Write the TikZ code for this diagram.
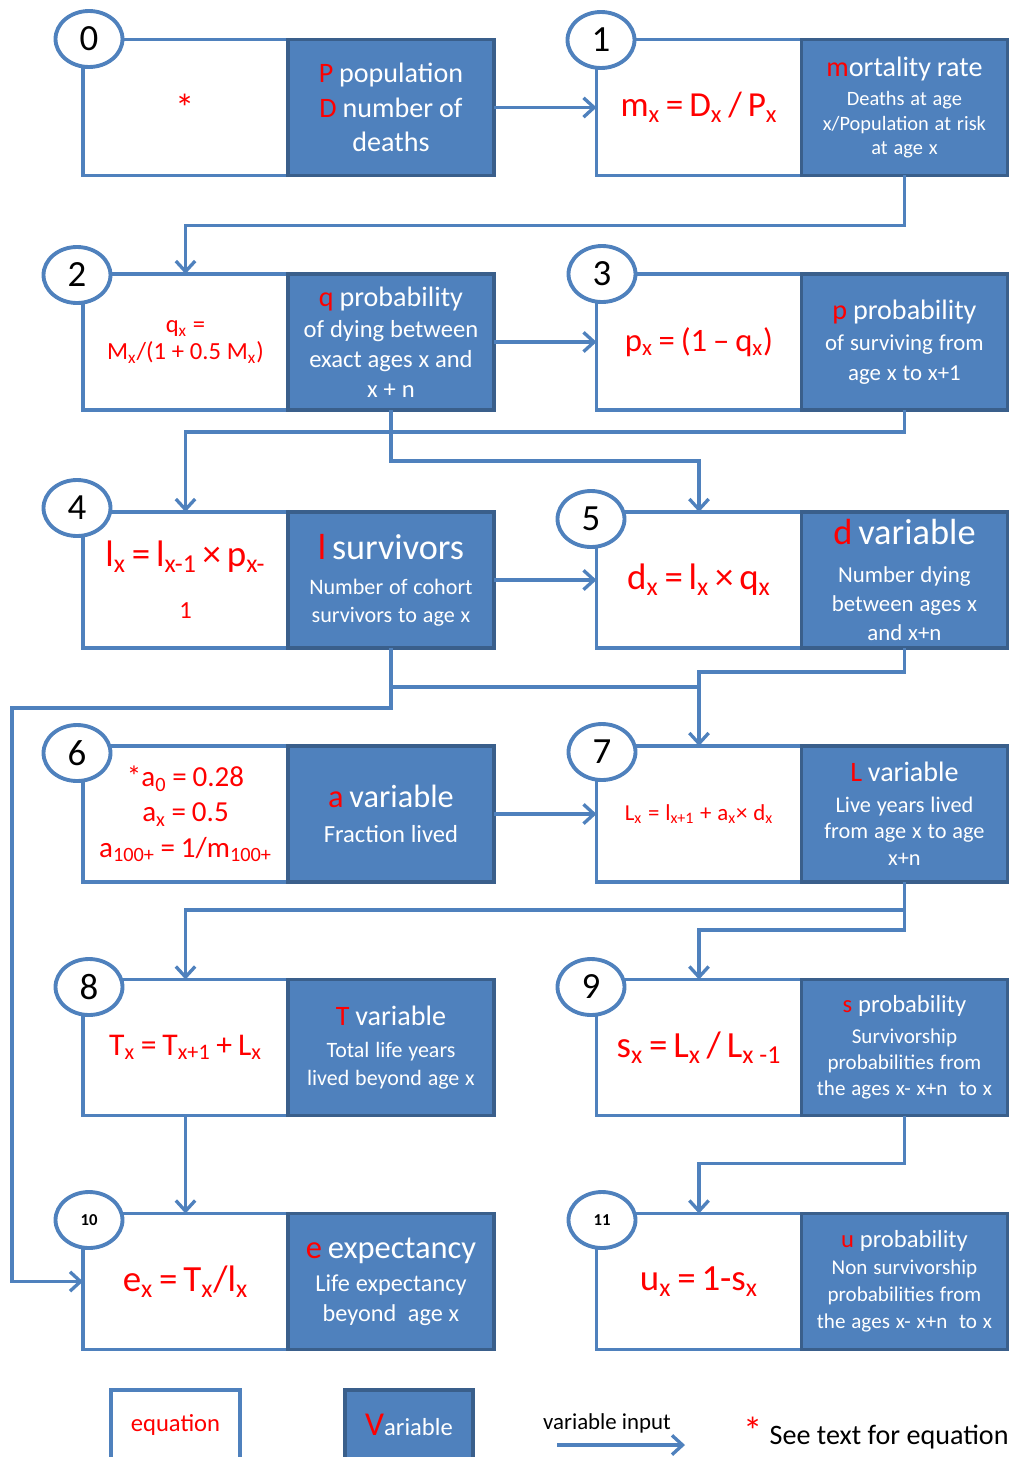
\documentclass[tikz,border=0pt]{standalone}
\usepackage{fontspec}
\setmainfont{Carlito}
\usetikzlibrary{positioning,arrows.meta,shapes.geometric}
\definecolor{varfill}{HTML}{4F81BD}
\definecolor{varedge}{HTML}{3A5F8B}
\definecolor{eqedge}{HTML}{4F81BD}
\newcommand{\redt}[1]{\textcolor{red}{#1}}
\newcommand{\fsz}[2]{\fontsize{#1}{#2}\selectfont}
\newcommand{\sbx}[1]{\textsubscript{#1}}

\begin{document}
\begin{tikzpicture}[
    x=0.02cm, y=-0.02cm,
    eqbox/.style={draw=eqedge, fill=white, line width=2pt, minimum width=4.1cm, minimum height=2.72cm,
        text width=3.9cm, align=center, inner sep=0pt, outer sep=0pt, text=red},
    varbox/.style={draw=varedge, fill=varfill, line width=1.8pt, minimum width=4.12cm, minimum height=2.72cm,
        text width=3.95cm, align=center, inner sep=0pt, outer sep=0pt, text=white},
    tag/.style={ellipse, draw=eqedge, fill=white, line width=2.2pt, minimum width=1.34cm,
        minimum height=1.12cm, inner sep=0pt, font=\fsz{21}{24}},
    smalltag/.style={tag, font=\bfseries\fsz{9.5}{11}},
    flow/.style={draw=eqedge, line width=1.9pt, -{Straight Barb[length=6pt,width=11pt]}},
    link/.style={draw=eqedge, line width=1.9pt}
]
\useasboundingbox (0,0) rectangle (1017,1457);
\clip (0,0) rectangle (1017,1457);

% row 0 / 1
\node[eqbox] (e0) at (185.5,107.5) {\fsz{22}{24}*\par};
\node[varbox, right=0pt of e0] (v0) {\fsz{16}{19.8}\redt{P} population\\\redt{D} number of\\deaths\par};
\node[eqbox] (e1) at (699,107.5) {\fsz{20}{24}m\sbx{x} = D\sbx{x} / P\sbx{x}\par};
\node[varbox, right=0pt of e1] (v1) {{\fsz{16}{19}\redt{m}ortality rate\par}\vspace{3pt}
    \fsz{11.6}{13.9}Deaths at age\\x/Population at risk\\at age x\par};

% row 2 / 3
\node[eqbox] (e2) at (185.5,342) {\fsz{14}{15.3}q\sbx{x} =\\M\sbx{x}/(1 + 0.5 M\sbx{x})\par};
\node[varbox, right=0pt of e2] (v2) {{\fsz{16}{19}\redt{q} probability\par}\vspace{1pt}
    \fsz{14}{17}of dying between\\exact ages x and\\x + n\par};
\node[eqbox] (e3) at (699,342) {\fsz{18.6}{22}p\sbx{x} = (1 – q\sbx{x})\par};
\node[varbox, right=0pt of e3] (v3) {{\fsz{16}{19}\redt{p} probability\par}\vspace{1pt}
    \fsz{13}{17}of surviving from\\age x to x+1\par};

% row 4 / 5
\node[eqbox] (e4) at (185.5,580) {\fsz{21}{29.5}l\sbx{x} = l\sbx{x-1} × p\sbx{x-}\\{\fsz{14}{17}1}\par};
\node[varbox, right=0pt of e4] (v4) {{\fsz{20.6}{23}\redt{l} survivors\par}\vspace{4pt}
    \fsz{12.6}{15.9}Number of cohort\\survivors to age x\par};
\node[eqbox] (e5) at (699,580) {\fsz{21}{25}d\sbx{x} = l\sbx{x} × q\sbx{x}\par};
\node[varbox, right=0pt of e5] (v5) {{\fsz{20.7}{23}\redt{d} variable\par}\vspace{5pt}
    \fsz{13}{16.4}Number dying\\between ages x\\and x+n\par};

% row 6 / 7
\node[eqbox] (e6) at (185.5,814) {\fsz{16.5}{20}*a\sbx{0} = 0.28\\a\sbx{x} = 0.5\\a\sbx{100+} = 1/m\sbx{100+}\par};
\node[varbox, right=0pt of e6] (v6) {{\fsz{18.4}{21}\redt{a} variable\par}\vspace{3pt}
    \fsz{14}{17}Fraction lived\par};
\node[eqbox] (e7) at (699,814) {\fsz{13}{16}L\sbx{x} = l\sbx{x+1} + a\sbx{x}× d\sbx{x}\par};
\node[varbox, right=0pt of e7] (v7) {{\fsz{16}{19}\redt{L} variable\par}\vspace{2pt}
    \fsz{12.7}{15.3}Live years lived\\from age x to age\\x+n\par};

% row 8 / 9
\node[eqbox] (e8) at (185.5,1047.5) {\fsz{18}{22}T\sbx{x} = T\sbx{x+1} + L\sbx{x}\par};
\node[varbox, right=0pt of e8] (v8) {{\fsz{16}{19}\redt{T} variable\par}\vspace{2pt}
    \fsz{12.5}{15.9}Total life years\\lived beyond age x\par};
\node[eqbox] (e9) at (699,1047.5) {\fsz{21}{25}s\sbx{x} = L\sbx{x} / L\sbx{x -1}\par};
\node[varbox, right=0pt of e9] (v9) {{\fsz{14}{17}\redt{s} probability\par}\vspace{3pt}
    \fsz{12}{14.7}Survivorship\\probabilities from\\the ages x- x+n~ to x\par};

% row 10 / 11
\node[eqbox] (e10) at (185.5,1281.5) {\fsz{21}{25}e\sbx{x} = T\sbx{x}/l\sbx{x}\par};
\node[varbox, right=0pt of e10] (v10) {{\fsz{18.5}{21}\redt{e} expectancy\par}\vspace{2pt}
    \fsz{13.8}{17}Life expectancy\\beyond~ age x\par};
\node[eqbox] (e11) at (699,1281.5) {\fsz{21}{25}u\sbx{x} = 1-s\sbx{x}\par};
\node[varbox, right=0pt of e11] (v11) {{\fsz{14}{15.3}\redt{u} probability\par}
    \fsz{12}{15.3}Non survivorship\\probabilities from\\the ages x- x+n~ to x\par};

% connectors
\draw[flow] (v0.east) -- (e1.west);
\draw[flow] (v1.south) -- ++(0,50) -| (e2.north);
\draw[flow] (v2.east) -- (e3.west);
\draw[flow] (v3.south) -- ++(0,22) -| (e4.north);
\draw[flow] (v2.south) -- ++(0,51) -| (e5.north);
\draw[flow] (v4.east) -- (e5.west);
\coordinate (bend) at (12,708);
\draw[flow] (v4.south) |- (bend) |- (e10.west);
\path (v4.south) ++(0,39) coordinate (split);
\draw[link] (split) -- (split -| e7.north);
\draw[flow] (v5.south) -- ++(0,24) -| (e7.north);
\draw[flow] (v6.east) -- (e7.west);
\draw[flow] (v7.south) -- ++(0,28) -| (e8.north);
\draw[flow] (v7.south) -- ++(0,48) -| (e9.north);
\draw[flow] (e8.south) -- (e10.north);
\draw[flow] (v9.south) -- ++(0,48) -| (e11.north);

% step numbers
\foreach \n/\x/\y in {0/89/39, 1/601/40, 2/77/275, 3/602/274, 4/77/508, 5/591/519,
    6/77/753, 7/602/752, 8/89/987, 9/591/987}
    \node[tag] (t\n) at (\x,\y) {\n};
\node[smalltag] (t10) at (89,1220) {10};
\node[smalltag] (t11) at (602,1220) {11};

% legend
\node[eqbox, minimum width=2.58cm, minimum height=1.4cm, text width=2.4cm] (keyeq)
    at (175.5,1425) {\fsz{14}{16}equation\par};
\node[varbox, minimum width=2.56cm, minimum height=1.4cm, text width=2.4cm] (keyvar)
    at (409,1425) {{\fsz{19}{20}\redt{V}}{\fsz{14}{16}ariable}\par};
\coordinate (keya) at (557,1445);
\coordinate (keyb) at (685,1445);
\draw[flow] (keya) -- (keyb);
\node (keyin) at (607,1423) {\fsz{13}{15}variable input};
\node[anchor=west, inner sep=0pt] (keynote) at (743,1433) {{\fsz{22}{22}\redt{*}}\hspace{4pt}\fsz{16}{18}See text for equation};
\end{tikzpicture}
\end{document}
